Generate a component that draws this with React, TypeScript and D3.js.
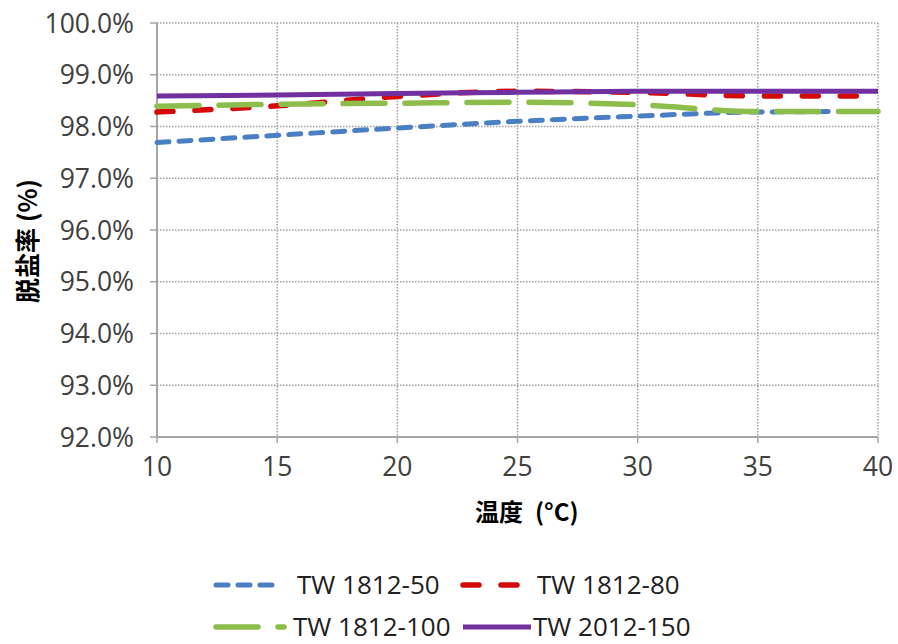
import React from "react";
import * as d3 from "d3";

const temps = [10, 15, 20, 25, 30, 35, 40];
const tw50 = [97.69, 97.83, 97.97, 98.1, 98.2, 98.28, 98.29];
const tw80 = [98.28, 98.4, 98.58, 98.68, 98.66, 98.59, 98.59];
const tw100 = [98.39, 98.43, 98.45, 98.47, 98.42, 98.29, 98.29];
const tw150 = [98.59, 98.61, 98.64, 98.66, 98.68, 98.68, 98.68];
const seriesNames = ["TW 1812-50", "TW 1812-80", "TW 1812-100", "TW 2012-150"];
const yTicks = [92, 93, 94, 95, 96, 97, 98, 99, 100];
const xTicks = [10, 15, 20, 25, 30, 35, 40];

const styles = [
  { color: "#4a7fc4", dash: "12 10", width: 5 },
  { color: "#d40a0a", dash: "16 22", width: 5.5 },
  { color: "#8dbd4a", dash: "42 20", width: 5.5 },
  { color: "#7030a0", dash: "", width: 5 },
];

export default function App() {
  const W = 898, H = 644;
  const x = d3.scaleLinear().domain([10, 40]).range([157, 878]);
  const y = d3.scaleLinear().domain([92, 100]).range([437, 23]);
  const data = [tw50, tw80, tw100, tw150];
  const line = d3
    .line<number>()
    .x((_, i) => x(temps[i]))
    .y((d) => y(d))
    .curve(d3.curveMonotoneX);
  const font = "'Open Sans', 'DejaVu Sans', sans-serif";
  const cjk = "'Noto Sans CJK SC', sans-serif";
  const legendPos = [
    { lx: 216, tx: 297, ty: 585 },
    { lx: 463, tx: 537, ty: 585 },
    { lx: 216, tx: 293, ty: 627 },
    { lx: 463, tx: 533, ty: 627 },
  ];
  const legendLen = [58, 60, 68, 68];
  return (
    <svg width={W} height={H} style={{ position: "absolute", left: 0, top: 0, background: "#fff" }}>
      {yTicks.map((t) => (
        <g key={"y" + t}>
          {t > 92 && (
            <line x1={157} x2={878} y1={y(t)} y2={y(t)} stroke="#a0a0a0" strokeWidth={1.5} strokeDasharray="1.5 1.5" />
          )}
          <line x1={150} x2={157} y1={y(t)} y2={y(t)} stroke="#a6a6a6" strokeWidth={1.5} />
          <text x={134} y={y(t)} dy="0.36em" textAnchor="end" fontFamily={font} fontSize={26.5} fill="#404040">
            {t.toFixed(1) + "%"}
          </text>
        </g>
      ))}
      {xTicks.map((t) => (
        <g key={"x" + t}>
          {t > 10 && (
            <line x1={x(t)} x2={x(t)} y1={23} y2={437} stroke="#a0a0a0" strokeWidth={1.5} strokeDasharray="1.5 1.5" />
          )}
          <line x1={x(t)} x2={x(t)} y1={437} y2={443} stroke="#a6a6a6" strokeWidth={1.5} />
          <text x={x(t)} y={466} dy="0.36em" textAnchor="middle" fontFamily={font} fontSize={26.5} fill="#404040">
            {t}
          </text>
        </g>
      ))}
      <line x1={157} x2={157} y1={23} y2={437} stroke="#a6a6a6" strokeWidth={2} />
      <line x1={157} x2={878} y1={437} y2={437} stroke="#a6a6a6" strokeWidth={2} />
      {data.map((d, i) => (
        <path
          key={"s" + i}
          d={line(d) || ""}
          fill="none"
          stroke={styles[i].color}
          strokeWidth={styles[i].width}
          strokeDasharray={styles[i].dash}
          strokeLinecap={i === 3 ? "butt" : "round"}
        />
      ))}
      <text x={475} y={512} dy="0.36em" fontFamily={cjk} fontWeight="bold" fontSize={24} fill="#000">
        <tspan>温度</tspan>
        <tspan dx={12}>(°C)</tspan>
      </text>
      <text
        transform="translate(28,243) rotate(-90)"
        x={-60}
        dy="0.36em"
        fontFamily={cjk}
        fontWeight="bold"
        fontSize={25}
        fill="#000"
      >
        <tspan>脱盐率</tspan>
        <tspan dx={6}>(%)</tspan>
      </text>
      {seriesNames.map((n, i) => (
        <g key={"l" + i}>
          <line
            x1={legendPos[i].lx}
            x2={legendPos[i].lx + legendLen[i]}
            y1={legendPos[i].ty}
            y2={legendPos[i].ty}
            stroke={styles[i].color}
            strokeWidth={styles[i].width}
            strokeDasharray={styles[i].dash}
            strokeLinecap={i === 3 ? "butt" : "round"}
          />
          <text x={legendPos[i].tx} y={legendPos[i].ty} dy="0.36em" fontFamily={font} fontSize={26} fill="#202020">
            {n}
          </text>
        </g>
      ))}
    </svg>
  );
}
